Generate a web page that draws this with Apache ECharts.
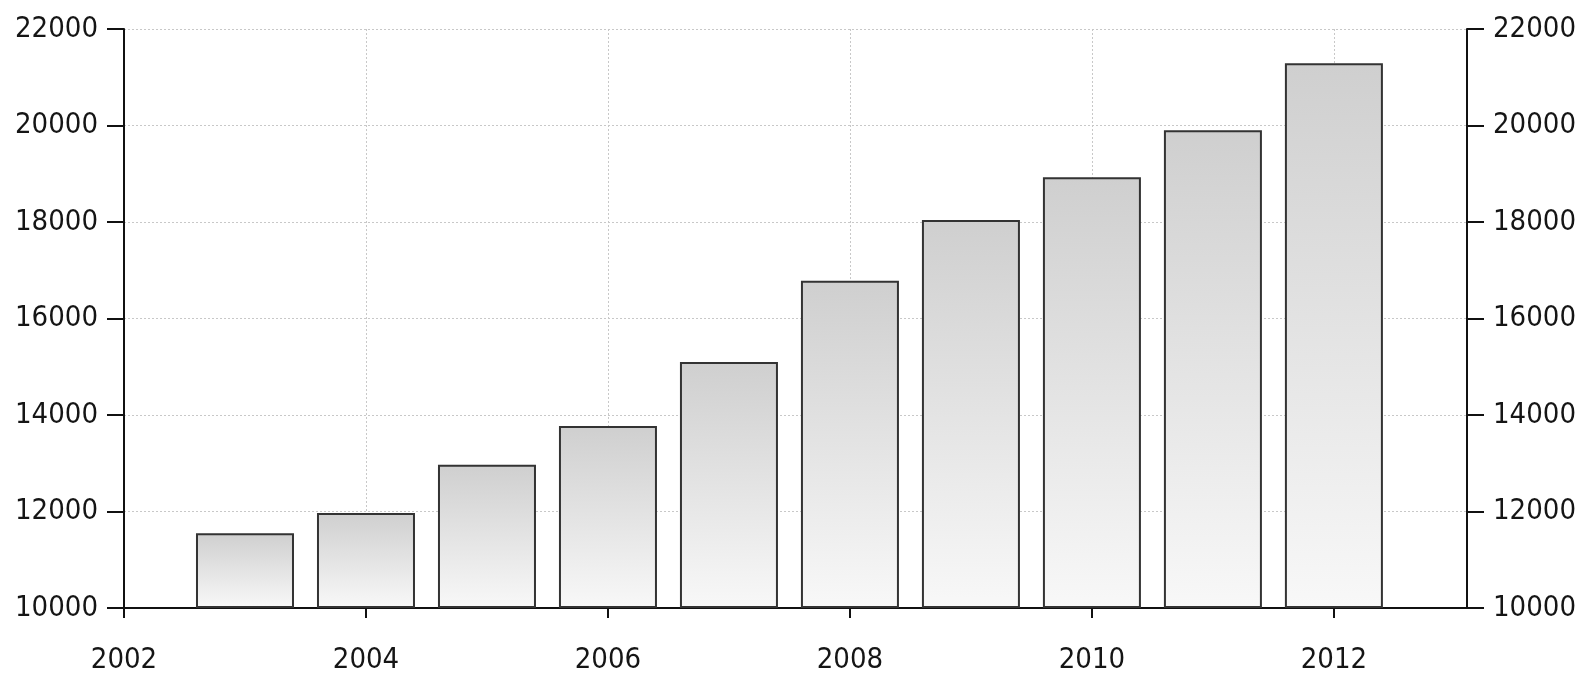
<!DOCTYPE html>
<html>
<head>
<meta charset="utf-8">
<script src="https://cdn.jsdelivr.net/npm/echarts@6/dist/echarts.min.js"></script>
<style>
html,body{margin:0;padding:0;background:#fff;}
#chart{width:1581px;height:675px;}
</style>
</head>
<body>
<div id="chart"></div>
<script>
const years = [2003, 2004, 2005, 2006, 2007, 2008, 2009, 2010, 2011, 2012];
const values = [11550, 11970, 12970, 13770, 15100, 16780, 18040, 18930, 19900, 21290];
const yTicks = [10000, 12000, 14000, 16000, 18000, 20000, 22000];
const xTicks = [2002, 2004, 2006, 2008, 2010, 2012];

const FONT = '"DejaVu Sans Condensed", "DejaVu Sans", sans-serif';
const chart = echarts.init(document.getElementById('chart'));

const yAxisBase = {
  type: 'value',
  min: yTicks[0],
  max: yTicks[yTicks.length - 1],
  interval: 2000,
  startValue: yTicks[0],
  axisLine: { show: true, lineStyle: { color: '#111', width: 2 } },
  axisTick: { show: true, length: 17, lineStyle: { color: '#111', width: 2 } },
  axisLabel: { color: '#151515', fontSize: 29, fontFamily: FONT, margin: 26, formatter: v => String(v) }
};

chart.setOption({
  animation: false,
  backgroundColor: '#fff',
  grid: { left: 124, right: 114, top: 29, bottom: 67, containLabel: false },
  xAxis: {
    type: 'value',
    min: xTicks[0],
    max: 2013.1,
    interval: 2,
    axisLine: { show: true, onZero: false, lineStyle: { color: '#111', width: 2 } },
    axisTick: { show: true, length: 10, lineStyle: { color: '#111', width: 2 } },
    axisLabel: {
      color: '#151515', fontSize: 29, fontFamily: FONT, margin: 38,
      showMaxLabel: false,
      formatter: v => (xTicks.indexOf(v) >= 0 ? String(v) : '')
    },
    splitLine: { show: true, lineStyle: { color: '#c8c8c8', type: [2, 2], width: 1 } }
  },
  yAxis: [
    Object.assign({}, yAxisBase, {
      position: 'left',
      splitLine: { show: true, lineStyle: { color: '#c8c8c8', type: [2, 2], width: 1 } }
    }),
    Object.assign({}, yAxisBase, {
      position: 'right',
      splitLine: { show: false }
    })
  ],
  series: [{
    type: 'bar',
    yAxisIndex: 0,
    barWidth: 98,
    clip: true,
    data: years.map((y, i) => [y, values[i]]),
    itemStyle: {
      color: new echarts.graphic.LinearGradient(0, 0, 0, 1, [
        { offset: 0, color: '#cfcfcf' },
        { offset: 1, color: '#f8f8f8' }
      ]),
      borderColor: '#333',
      borderWidth: 2
    }
  }]
});
</script>
</body>
</html>
